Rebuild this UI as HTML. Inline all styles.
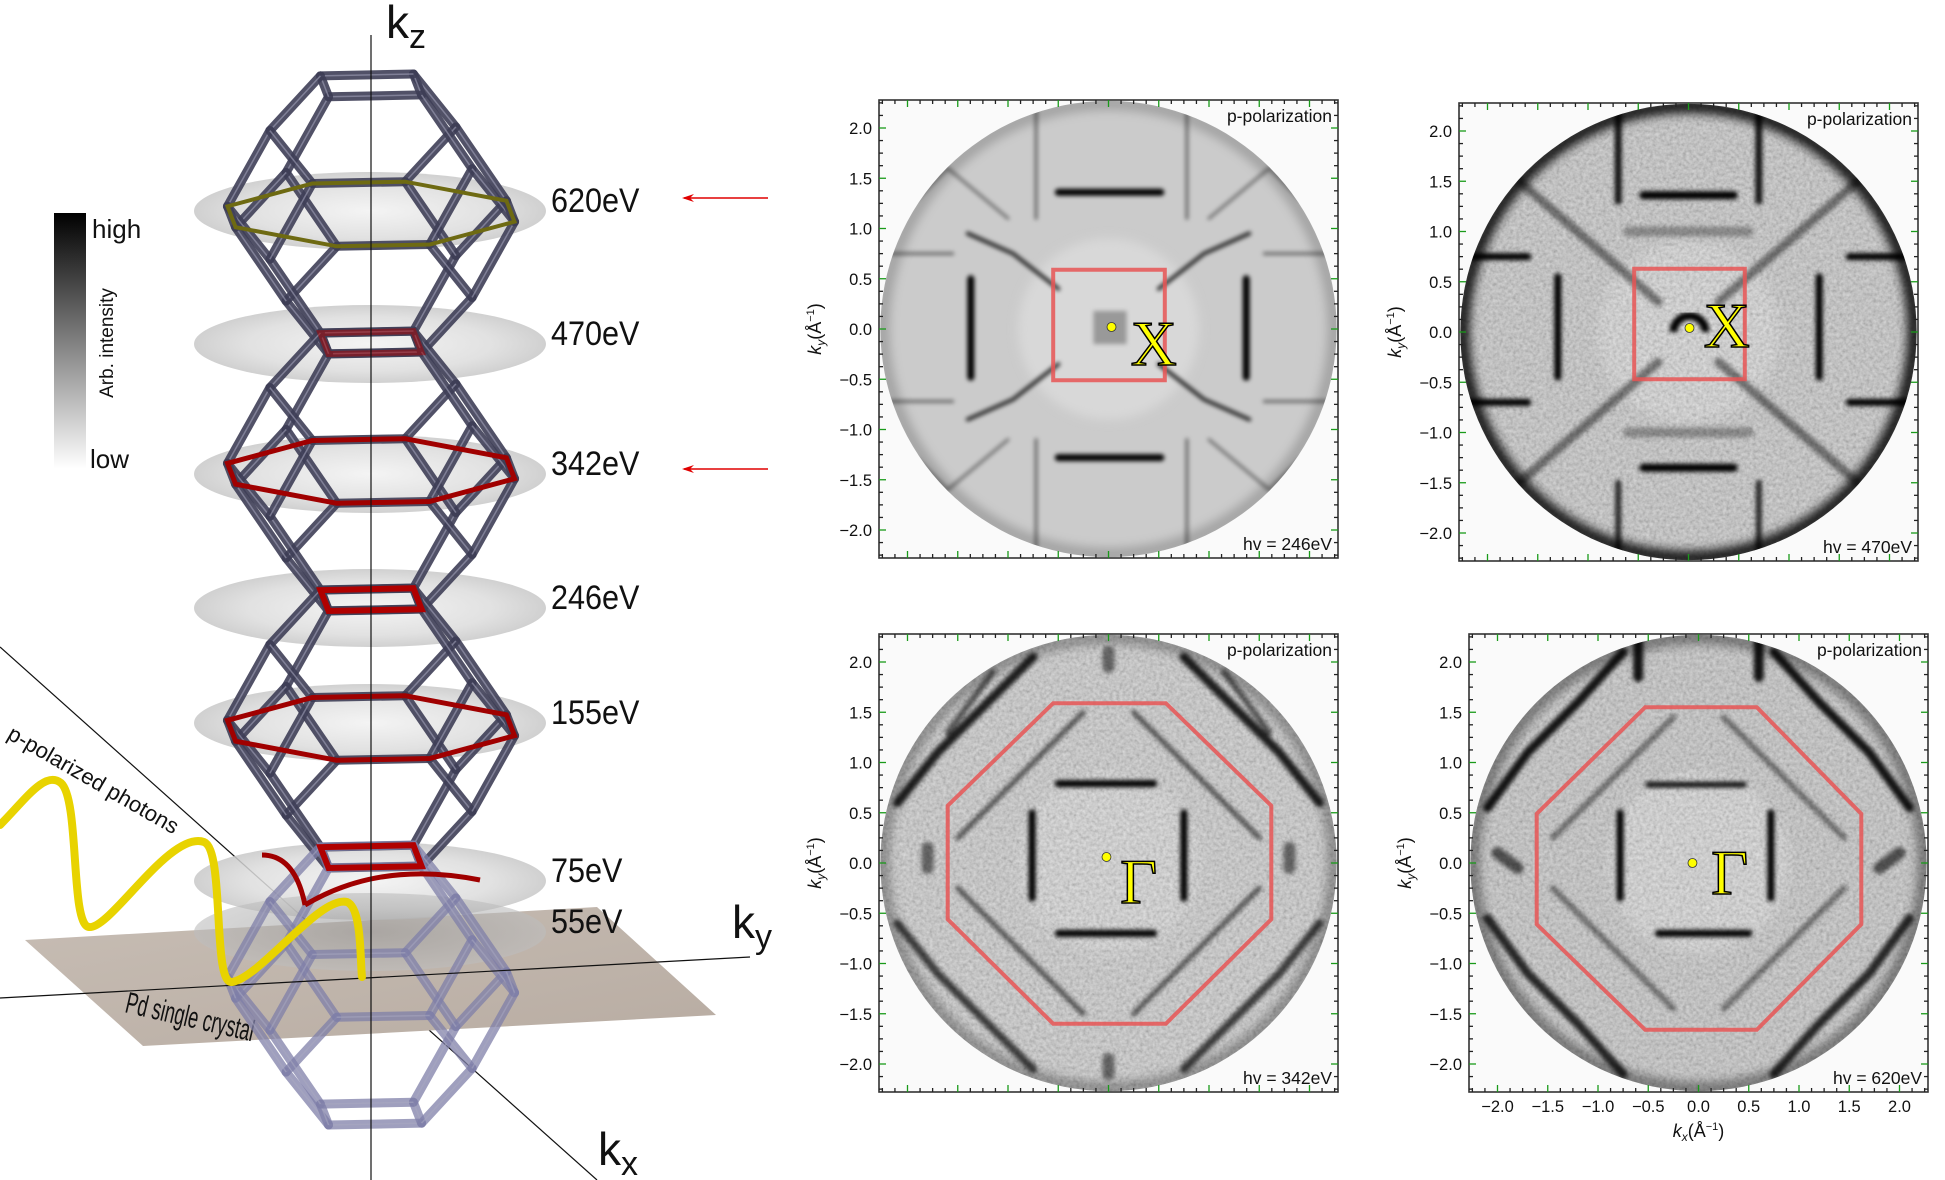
<!DOCTYPE html>
<html><head><meta charset="utf-8">
<style>
html,body{margin:0;padding:0;background:#fff;}
svg{display:block;}
text{font-family:"Liberation Sans",sans-serif;}
</style></head>
<body>
<svg id="fig" xmlns="http://www.w3.org/2000/svg" width="1945" height="1180" viewBox="0 0 1945 1180">
<defs>
  <linearGradient id="cbar" x1="0" y1="0" x2="0" y2="1">
    <stop offset="0" stop-color="#000"/><stop offset="1" stop-color="#fff"/>
  </linearGradient>
  <radialGradient id="discg" cx="0.5" cy="0.5" r="0.5">
    <stop offset="0" stop-color="#f2f2f2"/><stop offset="0.7" stop-color="#dcdcdc"/><stop offset="1" stop-color="#c8c8c8"/>
  </radialGradient>
  <radialGradient id="discdark" cx="0.5" cy="0.5" r="0.5">
    <stop offset="0" stop-color="#9a9a9a"/><stop offset="1" stop-color="#bdbdbd"/>
  </radialGradient>
  <linearGradient id="plane" x1="0" y1="0" x2="1" y2="1">
    <stop offset="0" stop-color="#c7bdb4"/><stop offset="1" stop-color="#b8aca2"/>
  </linearGradient>
  <filter id="blur2" x="-20%" y="-20%" width="140%" height="140%"><feGaussianBlur stdDeviation="2.2"/></filter>
  <filter id="blur5" x="-20%" y="-20%" width="140%" height="140%"><feGaussianBlur stdDeviation="5"/></filter>
  <filter id="noise" x="0" y="0" width="100%" height="100%">
    <feTurbulence type="fractalNoise" baseFrequency="0.3" numOctaves="2" seed="4"/>
    <feColorMatrix type="saturate" values="0"/>
    <feComponentTransfer><feFuncA type="linear" slope="0" intercept="0.45"/></feComponentTransfer>
  </filter>
  <marker id="arrowhead" markerWidth="12" markerHeight="8" refX="10" refY="4" orient="auto" markerUnits="userSpaceOnUse">
    <path d="M0,0 L12,4 L0,8 L4,4 Z" fill="#e00000"/>
  </marker>
</defs>
<g id="left"></g>
<g id="panels"></g>
</svg>
<script>
const NS='http://www.w3.org/2000/svg';
// ---------------- data ----------------
const hvLabels=['246eV','470eV','342eV','620eV'];
const yTicks=[-2.0,-1.5,-1.0,-0.5,0.0,0.5,1.0,1.5,2.0];
const xTicks=[-2.0,-1.5,-1.0,-0.5,0.0,0.5,1.0,1.5,2.0];
const bzSquare246=[[-0.55,0.59],[0.56,0.59],[0.56,-0.51],[-0.55,-0.51]];
const bzSquare470=[[-0.54,0.63],[0.56,0.63],[0.56,-0.47],[-0.54,-0.47]];
const bzOct342=[[-1.60,0.57],[-0.55,1.59],[0.57,1.59],[1.62,0.57],[1.62,-0.56],[0.57,-1.60],[-0.55,-1.60],[-1.60,-0.56]];
const bzOct620=[[-1.61,0.49],[-0.53,1.55],[0.58,1.55],[1.62,0.49],[1.62,-0.61],[0.58,-1.66],[-0.53,-1.66],[-1.61,-0.61]];
const symPoint246=[0.03,0.02], symPoint470=[0.01,0.04], symPoint342=[-0.02,0.06], symPoint620=[-0.06,0.0];
const symLabelPos246=[0.45,-0.36], symLabelPos470=[0.38,-0.15], symLabelPos342=[0.30,-0.40], symLabelPos620=[0.31,-0.31];
const symNames=['X','X','Γ','Γ'];
const discEnergies=['620eV','470eV','342eV','246eV','155eV','75eV','55eV'];
const discY=[211,344,474,608,723,881,932];

const feat246=[
 [[[-0.5,1.36],[0.52,1.36]],7,1],[[[-0.5,-1.28],[0.52,-1.28]],7,1],
 [[[-1.37,0.5],[-1.37,-0.48]],7,1],[[[1.37,0.5],[1.37,-0.48]],7,1],
 [[[-0.5,0.4],[-0.95,0.75],[-1.4,0.95]],4,0.8],[[[0.5,0.4],[0.95,0.75],[1.4,0.95]],4,0.8],
 [[[-0.5,-0.35],[-0.95,-0.7],[-1.4,-0.9]],4,0.8],[[[0.5,-0.35],[0.95,-0.7],[1.4,-0.9]],4,0.8],
 [[[-0.72,1.1],[-0.72,2.25]],3,0.5],[[[0.78,1.1],[0.78,2.25]],3,0.5],
 [[[-0.72,-1.1],[-0.72,-2.25]],3,0.5],[[[0.78,-1.1],[0.78,-2.25]],3,0.5],
 [[[-2.2,0.75],[-1.55,0.75]],3,0.5],[[[2.2,0.75],[1.55,0.75]],3,0.5],
 [[[-2.2,-0.72],[-1.55,-0.72]],3,0.5],[[[2.2,-0.72],[1.55,-0.72]],3,0.5],
 [[[-1.0,1.1],[-1.6,1.6],[-1.9,1.3]],3,0.45],[[[1.0,1.1],[1.6,1.6],[1.9,1.3]],3,0.45],
 [[[-1.0,-1.1],[-1.6,-1.6],[-1.9,-1.3]],3,0.45],[[[1.0,-1.1],[1.6,-1.6],[1.9,-1.3]],3,0.45]
];
const feat470=[
 [[[-0.45,1.36],[0.45,1.36]],8,1],[[[-0.45,-1.35],[0.45,-1.35]],8,1],
 [[[-1.3,0.55],[-1.3,-0.45]],7,1],[[[1.3,0.55],[1.3,-0.45]],7,1],
 [[[-1.8,1.6],[-0.3,0.3]],9,0.45],[[[1.8,1.6],[0.3,0.3]],9,0.45],
 [[[-1.8,-1.6],[-0.3,-0.3]],9,0.45],[[[1.8,-1.6],[0.3,-0.3]],9,0.45],
 [[[-0.7,1.3],[-0.7,2.25]],7,0.9],[[[0.7,1.3],[0.7,2.25]],7,0.9],
 [[[-0.7,-1.5],[-0.7,-2.25]],6,0.8],[[[0.7,-1.5],[0.7,-2.25]],6,0.8],
 [[[-2.25,0.75],[-1.6,0.75]],7,1],[[[2.25,0.75],[1.6,0.75]],7,1],
 [[[-2.25,-0.7],[-1.6,-0.7]],7,1],[[[2.25,-0.7],[1.6,-0.7]],7,1],
 [[[-0.6,1.0],[0.6,1.0]],10,0.3],[[[-0.6,-1.0],[0.6,-1.0]],10,0.3]
];
const feat342=[
 [[[-0.76,0.5],[-0.76,-0.35]],7,1],[[[0.75,0.5],[0.75,-0.35]],7,1],
 [[[-0.5,0.79],[0.45,0.79]],7,1],[[[-0.5,-0.7],[0.45,-0.7]],7,1],
 [[[-0.25,1.5],[-1.5,0.25]],5,0.6],[[[0.25,1.5],[1.5,0.25]],5,0.6],
 [[[-0.25,-1.5],[-1.5,-0.25]],5,0.6],[[[0.25,-1.5],[1.5,-0.25]],5,0.6],
 [[[-2.1,0.6],[-1.7,1.1],[-1.2,1.6],[-0.75,2.05]],9,0.85],[[[2.1,0.6],[1.7,1.1],[1.2,1.6],[0.75,2.05]],9,0.85],
 [[[-2.1,-0.6],[-1.7,-1.1],[-1.2,-1.6],[-0.75,-2.05]],8,0.7],[[[2.1,-0.6],[1.7,-1.1],[1.2,-1.6],[0.75,-2.05]],8,0.7],
 [[[-1.6,1.3],[-1.15,1.9]],6,0.6],[[[1.6,1.3],[1.15,1.9]],6,0.6],
 [[[-1.8,0.15],[-1.8,-0.05]],12,0.5],[[[1.8,0.15],[1.8,-0.05]],12,0.5],
 [[[0,2.1],[0,1.95]],12,0.5],[[[0,-1.95],[0,-2.1]],12,0.5]
];
const feat620=[
 [[[-0.78,0.5],[-0.78,-0.35]],7,1],[[[0.72,0.5],[0.72,-0.35]],7,1],
 [[[-0.5,0.78],[0.45,0.78]],6,0.9],[[[-0.4,-0.7],[0.5,-0.7]],7,1],
 [[[-0.25,1.45],[-1.45,0.25]],6,0.45],[[[0.25,1.45],[1.45,0.25]],6,0.45],
 [[[-0.25,-1.45],[-1.45,-0.25]],6,0.45],[[[0.25,-1.45],[1.45,-0.25]],6,0.45],
 [[[-2.1,0.55],[-1.7,1.1],[-1.2,1.6],[-0.75,2.1]],9,0.9],[[[2.1,0.55],[1.7,1.1],[1.2,1.6],[0.75,2.1]],9,0.9],
 [[[-2.1,-0.55],[-1.7,-1.1],[-1.2,-1.6],[-0.75,-2.1]],9,0.8],[[[2.1,-0.55],[1.7,-1.1],[1.2,-1.6],[0.75,-2.1]],9,0.8],
 [[[-0.6,2.2],[-0.6,1.85]],10,0.9],[[[0.6,2.2],[0.6,1.85]],10,0.9],
 [[[-2.0,0.1],[-1.8,-0.05]],12,0.6],[[[2.0,0.1],[1.8,-0.05]],12,0.6]
];

function el(tag,attrs,parent){const e=document.createElementNS(NS,tag);for(const k in attrs)e.setAttribute(k,attrs[k]);if(parent)parent.appendChild(e);return e;}

// ---------------- panels ----------------
const panelsG=document.getElementById('panels');
const panelDefs=[
 {left:879,top:100,hv:hvLabels[0],base:'#cbcbcb',bz:bzSquare246,sp:symPoint246,lp:symLabelPos246,sym:symNames[0],feat:feat246,noise:false,edge:0.2,xlab:false},
 {left:1459,top:103,hv:hvLabels[1],base:'#c4c4c4',bz:bzSquare470,sp:symPoint470,lp:symLabelPos470,sym:symNames[1],feat:feat470,noise:true,edge:0.9,xlab:false},
 {left:879,top:634,hv:hvLabels[2],base:'#cacaca',bz:bzOct342,sp:symPoint342,lp:symLabelPos342,sym:symNames[2],feat:feat342,noise:true,edge:0.3,xlab:false},
 {left:1469,top:634,hv:hvLabels[3],base:'#c2c2c2',bz:bzOct620,sp:symPoint620,lp:symLabelPos620,sym:symNames[3],feat:feat620,noise:true,edge:0.4,xlab:true}
];
const W=459,H=458,S=100.5;
panelDefs.forEach((p,i)=>{
  const g=el('g',{},panelsG);
  
  
  const cx=p.left+W/2, cy=p.top+H/2;
  const X=v=>cx+v*S, Y=v=>cy-v*S;
  const bg=el('rect',{x:p.left,y:p.top,width:W,height:H,fill:'#fafafa'},g);
  
  
  const cid='clip'+i;
  const cp=el('clipPath',{id:cid},g);
  el('ellipse',{cx:X(0),cy:Y(0),rx:2.27*S,ry:2.27*S},cp);
  const cpf=el('clipPath',{id:'f'+cid},g);
  el('rect',{x:p.left,y:p.top,width:W,height:H},cpf);
  const outer=el('g',{'clip-path':'url(#f'+cid+')'},g);
  const img=el('g',{'clip-path':'url(#'+cid+')'},outer);
  
  
  el('rect',{x:p.left-20,y:p.top-20,width:W+40,height:H+40,fill:p.base},img);
  el('ellipse',{cx:X(0),cy:Y(0),rx:0.9*S,ry:0.9*S,fill:'#d8d8d8',filter:'url(#blur5)'},img);
  if(p.noise){el('rect',{x:p.left,y:p.top,width:W,height:H,filter:'url(#noise)'},img);}
  const fg=el('g',{filter:'url(#blur2)'},img);
  p.feat.forEach(f=>{
    const pts=f[0].map(q=>X(q[0]).toFixed(1)+','+Y(q[1]).toFixed(1)).join(' ');
    const pl=el('polyline',{points:pts,fill:'none',stroke:'#000','stroke-width':f[1],'stroke-opacity':f[2],'stroke-linecap':'round'},fg);
    
    
  });
  el('ellipse',{cx:X(0),cy:Y(0),rx:2.25*S,ry:2.25*S,fill:'none',stroke:'#000','stroke-width':14,'stroke-opacity':p.edge,filter:'url(#blur5)'},img);
  if(i===1){el('path',{d:`M${X(-0.15)},${Y(0.0)} A${0.14*S},${0.14*S} 0 1 1 ${X(0.17)},${Y(0.0)}`,fill:'none',stroke:'#000','stroke-width':8,filter:'url(#blur2)'},img);}
  if(i===0){el('rect',{x:X(-0.15),y:Y(0.18),width:0.33*S,height:0.33*S,fill:'#999',filter:'url(#blur2)'},img);}
  const bz=el('polygon',{points:p.bz.map(q=>X(q[0]).toFixed(1)+','+Y(q[1]).toFixed(1)).join(' '),fill:'none',stroke:'#e85555','stroke-opacity':0.85,'stroke-width':4},outer);
  
  
  const dot=el('circle',{cx:X(p.sp[0]),cy:Y(p.sp[1]),r:4.5,fill:'#ffff00',stroke:'#333','stroke-width':0.8},outer);
  
  
  const sl=el('text',{x:X(p.lp[0]),y:Y(p.lp[1]),'text-anchor':'middle','font-size':64,fill:'#ffff00',stroke:'#000','stroke-width':1.5,style:'font-family:"Liberation Serif",serif'},outer);
  sl.textContent=p.sym;
  
  
  const fr=el('rect',{x:p.left,y:p.top,width:W,height:H,fill:'none',stroke:'#333','stroke-width':1.6},g);
  
  
  const tg=el('g',{},g);
  
  
  for(let k=-18;k<=18;k++){
    const v=k*0.125; const major=(k%4===0)&&Math.abs(v)<=2;
    const len=major?7:4, col=major?'#1a9a1a':'#222';
    const xx=X(v), yy=Y(v);
    if(xx>p.left+1&&xx<p.left+W-1){
      el('line',{x1:xx,y1:p.top+H,x2:xx,y2:p.top+H-len,stroke:col,'stroke-width':1.3},tg);
      el('line',{x1:xx,y1:p.top,x2:xx,y2:p.top+len,stroke:col,'stroke-width':1.3},tg);
    }
    if(yy>p.top+1&&yy<p.top+H-1){
      el('line',{x1:p.left,y1:yy,x2:p.left+len,y2:yy,stroke:col,'stroke-width':1.3},tg);
      el('line',{x1:p.left+W,y1:yy,x2:p.left+W-len,y2:yy,stroke:col,'stroke-width':1.3},tg);
    }
  }
  yTicks.forEach(v=>{
    const t=el('text',{x:p.left-7,y:Y(v)+6,'text-anchor':'end','font-size':16.5,fill:'#111'},g);
    t.textContent=v.toFixed(1).replace('-','\u2212');
    
    
  });
  if(p.xlab){
    xTicks.forEach(v=>{
      const t=el('text',{x:X(v),y:p.top+H+20,'text-anchor':'middle','font-size':16.5,fill:'#111'},g);
      t.textContent=v.toFixed(1).replace('-','\u2212');
      
      
    });
    const xl=el('text',{x:X(0),y:p.top+H+45,'text-anchor':'middle','font-size':18,fill:'#111'},g);
    xl.innerHTML='<tspan font-style="italic">k</tspan><tspan font-style="italic" font-size="12" dy="4">x</tspan><tspan dy="-4">(Å</tspan><tspan font-size="11" dy="-7">−1</tspan><tspan dy="7">)</tspan>';
    
    
  }
  const yl=el('text',{x:0,y:0,'text-anchor':'middle','font-size':18,fill:'#111',transform:`translate(${p.left-58},${cy}) rotate(-90)`},g);
  yl.innerHTML='<tspan font-style="italic">k</tspan><tspan font-style="italic" font-size="12" dy="4">y</tspan><tspan dy="-4">(Å</tspan><tspan font-size="11" dy="-7">−1</tspan><tspan dy="7">)</tspan>';
  
  
  const pp=el('text',{x:p.left+W-6,y:p.top+22,'text-anchor':'end','font-size':17.5,fill:'#111'},g);
  pp.textContent='p-polarization';
  
  
  const hv=el('text',{x:p.left+W-6,y:p.top+H-8,'text-anchor':'end','font-size':17.5,fill:'#111'},g);
  hv.textContent='hv = '+p.hv;
  
  
});

// ---------------- left illustration ----------------
const L=document.getElementById('left');
const kxLine=el('line',{x1:0,y1:647,x2:597,y2:1180,stroke:'#111','stroke-width':1.2},L);


const cb=el('rect',{x:54,y:213,width:32,height:256,fill:'url(#cbar)'},L);


const hi=el('text',{x:92,y:238,'font-size':26,fill:'#111'},L); hi.textContent='high';


const lo=el('text',{x:90,y:468,'font-size':26,fill:'#111'},L); lo.textContent='low';


const ai=el('text',{x:0,y:0,'font-size':19,'text-anchor':'middle',fill:'#111',transform:'translate(113,343) rotate(-90)'},L); ai.textContent='Arb. intensity';



const plane=el('polygon',{points:'25,940 597,907 716,1015 143,1046',fill:'url(#plane)'},L);


const pdt=el('text',{x:0,y:0,'font-size':30,fill:'#111',transform:'translate(124,1012) rotate(13) scale(0.6,1)'},L);
pdt.textContent='Pd single crystal';



const discG=el('g',{},L);


discY.forEach((y,i)=>{
  const d=el('ellipse',{cx:370,cy:y,rx:176,ry:39,fill:i===6?'url(#discdark)':'url(#discg)','fill-opacity':i===6?0.6:0.85},discG);
  
  
  const t=el('text',{x:551,y:y+1,'font-size':34,fill:'#111',transform:`translate(${551*0.1},0) scale(0.9,1)`},L);
  t.textContent=discEnergies[i];
  
  
});

const verts=[];
const perms=[[0,1,2],[0,2,1],[1,0,2],[1,2,0],[2,0,1],[2,1,0]];
perms.forEach(pm=>{
  for(const s1 of [1,-1])for(const s2 of [1,-1]){
    const v=[0,0,0]; v[pm[1]]=s1*1; v[pm[2]]=s2*2;
    const key=v.join(',');
    if(!verts.some(u=>u.join(',')===key))verts.push(v);
  }
});
const edges=[];
for(let a=0;a<verts.length;a++)for(let b=a+1;b<verts.length;b++){
  const d=(verts[a][0]-verts[b][0])**2+(verts[a][1]-verts[b][1])**2+(verts[a][2]-verts[b][2])**2;
  if(Math.abs(d-2)<1e-6)edges.push([a,b]);
}
const th=40*Math.PI/180, el3=13*Math.PI/180, K=66;
function proj(v,cy){
  const xp=v[0]*Math.cos(th)-v[1]*Math.sin(th);
  const dp=v[0]*Math.sin(th)+v[1]*Math.cos(th);
  return [371+K*xp, cy-K*v[2]*Math.cos(el3)+K*dp*Math.sin(el3)];
}
const cellY=[214,471,728,985];
const cellG=el('g',{},L);


cellY.forEach((cy,ci)=>{
  const cg=el('g',{},cellG);
  
  
  const col=ci===3?'#7f7fa8':'#3e3e56';
  edges.forEach(e=>{
    const a=proj(verts[e[0]],cy), b=proj(verts[e[1]],cy);
    el('line',{x1:a[0],y1:a[1],x2:b[0],y2:b[1],stroke:col,'stroke-width':9,'stroke-opacity':ci===3?0.75:0.9,'stroke-linecap':'round'},cg);
    el('line',{x1:a[0],y1:a[1],x2:b[0],y2:b[1],stroke:'#a8a8c0','stroke-width':1.5,'stroke-opacity':0.55},cg);
  });
});
const oct=[[2,1],[1,2],[-1,2],[-2,1],[-2,-1],[-1,-2],[1,-2],[2,-1]];
const secCol=['#6e6a12','#a00000','#a00000'];
secCol.forEach((c,ci)=>{
  const pts=oct.map(q=>proj([q[0],q[1],0],cellY[ci])).map(p=>p[0].toFixed(1)+','+p[1].toFixed(1)).join(' ');
  const pg=el('polygon',{points:pts,fill:'none',stroke:c,'stroke-width':ci===0?4:5},L);
  
  
});
const sq=[[1,0],[0,1],[-1,0],[0,-1]];
[[0,-2,0.5],[1,-2,1],[2,-2,1]].forEach(s=>{
  const pts=sq.map(q=>proj([q[0],q[1],s[1]],cellY[s[0]])).map(p=>p[0].toFixed(1)+','+p[1].toFixed(1)).join(' ');
  const pg=el('polygon',{points:pts,fill:'none',stroke:'#b00000','stroke-width':6,'stroke-opacity':s[2]},L);
  
  
});
const arc55=el('path',{d:'M262,855 Q295,855 305,905 M305,905 Q380,860 480,880',fill:'none',stroke:'#a00000','stroke-width':5},L);



const kzLine=el('line',{x1:371,y1:35,x2:371,y2:1180,stroke:'#111','stroke-width':1.2},L);


const kyLine=el('line',{x1:0,y1:998,x2:750,y2:957,stroke:'#111','stroke-width':1.2},L);


const kz=el('text',{x:386,y:38,'font-size':46,fill:'#111'},L);
kz.innerHTML='k<tspan font-size="34" dy="10">z</tspan>';


const ky=el('text',{x:732,y:938,'font-size':46,fill:'#111'},L);
ky.innerHTML='k<tspan font-size="34" dy="10">y</tspan>';


const kx=el('text',{x:598,y:1165,'font-size':46,fill:'#111'},L);
kx.innerHTML='k<tspan font-size="34" dy="10">x</tspan>';



const wave=el('path',{d:'M0,825 C25,800 45,770 61,783 C80,800 70,925 89,927 C110,930 170,830 204,842 C225,850 212,985 232,982 C260,978 320,895 347,902 C362,908 360,960 362,977',fill:'none',stroke:'#e8d300','stroke-width':8,'stroke-linecap':'round'},L);


const ph=el('text',{x:0,y:0,'font-size':22,fill:'#111',transform:'translate(6,738) rotate(30)'},L);
ph.textContent='p-polarized  photons';



[198,469].forEach(y=>{
  const a=el('line',{x1:768,y1:y,x2:684,y2:y,stroke:'#e00000','stroke-width':1.6,'marker-end':'url(#arrowhead)'},L);
  
  
});
</script>
</body></html>
